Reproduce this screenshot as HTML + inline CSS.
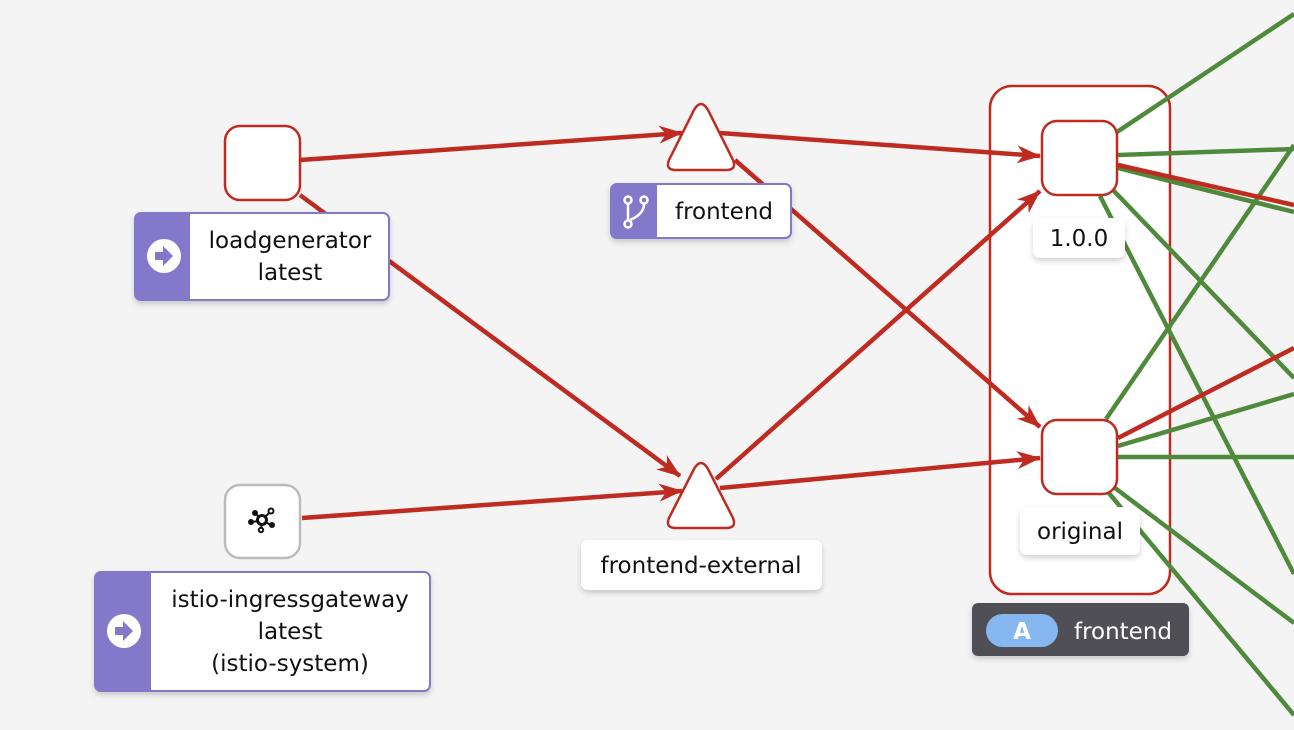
<!DOCTYPE html>
<html><head><meta charset="utf-8"><style>
html,body{margin:0;padding:0;background:#f4f4f4;}
svg{display:block;font-family:"DejaVu Sans","Liberation Sans",sans-serif;}
</style></head><body>
<svg width="1294" height="730" viewBox="0 0 1294 730" xmlns="http://www.w3.org/2000/svg">
<defs>
<marker id="ar" viewBox="0 0 24 18" refX="23" refY="9" markerWidth="24" markerHeight="18" markerUnits="userSpaceOnUse" orient="auto">
<path d="M0,0 L24,9 L0,18 L7,9 Z" fill="#bf2b20"/></marker>
<filter id="sh" x="-20%" y="-20%" width="140%" height="150%"><feDropShadow dx="0" dy="3" stdDeviation="3" flood-color="#000" flood-opacity="0.18"/></filter>
</defs>
<rect width="1294" height="730" fill="#f4f4f4"/>

<rect x="990" y="86" width="180" height="508" rx="22" fill="#fff" stroke="#bf2b20" stroke-width="2.5"/>

<g stroke="#4f8a3c" stroke-width="4.5" fill="none">
<line x1="1117" y1="132" x2="1294" y2="14"/>
<line x1="1118" y1="155" x2="1294" y2="149"/>
<line x1="1118" y1="168" x2="1294" y2="212"/>
<line x1="1113" y1="190" x2="1294" y2="378"/>
<line x1="1100" y1="196" x2="1294" y2="574"/>
<line x1="1106" y1="419" x2="1294" y2="145"/>
<line x1="1118" y1="446" x2="1294" y2="394"/>
<line x1="1118" y1="457" x2="1294" y2="457"/>
<line x1="1115" y1="488" x2="1294" y2="623"/>
<line x1="1108" y1="492" x2="1294" y2="715"/>
</g>
<g stroke="#bf2b20" stroke-width="4.5" fill="none">
<line x1="1118" y1="165" x2="1294" y2="205"/>
<line x1="1118" y1="438" x2="1294" y2="348"/>
</g>

<g stroke="#bf2b20" stroke-width="4.5" fill="none" marker-end="url(#ar)">
<line x1="300" y1="160" x2="682" y2="133"/>
<line x1="720" y1="133" x2="1040" y2="156"/>
<line x1="300" y1="195" x2="680" y2="476"/>
<line x1="302" y1="518" x2="682" y2="491"/>
<line x1="716" y1="479" x2="1040" y2="191"/>
<line x1="720" y1="488" x2="1040" y2="458"/>
<line x1="735" y1="160" x2="1040" y2="427"/>
</g>

<rect x="225" y="126" width="75" height="74" rx="15" fill="#fff" stroke="#bf2b20" stroke-width="2.5"/>
<rect x="225" y="485" width="75" height="73" rx="15" fill="#fff" stroke="#bbb" stroke-width="2.5"/>
<g transform="translate(262,520)" fill="none" stroke="#111" stroke-width="2">
<circle cx="0" cy="0" r="4.5" stroke-width="3"/>
<line x1="-6" y1="-6" x2="-3" y2="-3"/><line x1="3" y1="-3" x2="7" y2="-7"/>
<line x1="-10" y1="2" x2="-4" y2="1"/><line x1="3" y1="2" x2="9" y2="5"/><line x1="0" y1="4" x2="-1" y2="8"/>
<circle cx="-7" cy="-7" r="2" fill="#111"/><circle cx="9" cy="-9" r="2.5" fill="#fff"/>
<circle cx="-11" cy="2" r="2" fill="#111"/><circle cx="10" cy="5" r="2" fill="#111"/><circle cx="-1" cy="10" r="2.2" fill="#fff"/>
</g>
<path d="M694,110 Q701,98 708,110 L733,160 Q737,170 726,170 L676,170 Q665,170 669,160 Z" fill="#fff" stroke="#bf2b20" stroke-width="2.5"/>
<path d="M694,469 Q701,457 708,469 L733,518 Q737,528 726,528 L676,528 Q665,528 669,518 Z" fill="#fff" stroke="#bf2b20" stroke-width="2.5"/>
<rect x="1042" y="121" width="75" height="74" rx="15" fill="#fff" stroke="#bf2b20" stroke-width="2.5"/>
<rect x="1042" y="420" width="75" height="74" rx="15" fill="#fff" stroke="#bf2b20" stroke-width="2.5"/>

<g filter="url(#sh)">
<rect x="135" y="213" width="254" height="87" rx="6" fill="#fff" stroke="#8378c9" stroke-width="2"/>
<path d="M141,213 H190 V300 H141 Q135,300 135,294 V219 Q135,213 141,213 Z" fill="#8378c9"/>
</g>
<circle cx="164" cy="256" r="17" fill="#fff"/>
<path d="M155,252 h8 v-6 l10,10 l-10,10 v-6 h-8 z" fill="#8378c9"/>
<text x="290" y="248" font-size="23" text-anchor="middle" fill="#111">loadgenerator</text>
<text x="290" y="280" font-size="23" text-anchor="middle" fill="#111">latest</text>

<g filter="url(#sh)">
<rect x="611" y="184" width="180" height="54" rx="6" fill="#fff" stroke="#8378c9" stroke-width="2"/>
<path d="M617,184 H657 V238 H617 Q611,238 611,232 V190 Q611,184 617,184 Z" fill="#8378c9"/>
</g>
<g stroke="#fff" stroke-width="2.5" fill="none">
<circle cx="628" cy="200" r="3.5"/><circle cx="628" cy="224" r="3.5"/><circle cx="644" cy="200" r="3.5"/>
<line x1="628" y1="204" x2="628" y2="220"/><path d="M644,204 Q644,214 630,220"/>
</g>
<text x="724" y="219" font-size="23" text-anchor="middle" fill="#111">frontend</text>

<g filter="url(#sh)">
<rect x="95" y="572" width="335" height="119" rx="6" fill="#fff" stroke="#8378c9" stroke-width="2"/>
<path d="M101,572 H151 V691 H101 Q95,691 95,685 V578 Q95,572 101,572 Z" fill="#8378c9"/>
</g>
<circle cx="124" cy="631" r="17" fill="#fff"/>
<path d="M115,627 h8 v-6 l10,10 l-10,10 v-6 h-8 z" fill="#8378c9"/>
<text x="290" y="607" font-size="23" text-anchor="middle" fill="#111">istio-ingressgateway</text>
<text x="290" y="639" font-size="23" text-anchor="middle" fill="#111">latest</text>
<text x="290" y="671" font-size="23" text-anchor="middle" fill="#111">(istio-system)</text>

<rect x="581" y="540" width="241" height="50" rx="7" fill="#fff" filter="url(#sh)"/>
<text x="701" y="573" font-size="23" text-anchor="middle" fill="#111">frontend-external</text>

<rect x="1033" y="218" width="92" height="40" rx="7" fill="#fff" filter="url(#sh)"/>
<text x="1079" y="246" font-size="23" text-anchor="middle" fill="#111">1.0.0</text>
<rect x="1020" y="507" width="120" height="48" rx="7" fill="#fff" filter="url(#sh)"/>
<text x="1080" y="539" font-size="23" text-anchor="middle" fill="#111">original</text>

<rect x="972" y="603" width="217" height="53" rx="6" fill="#4f5054" filter="url(#sh)"/>
<rect x="986" y="614" width="72" height="33" rx="16.5" fill="#86b8ef"/>
<text x="1022" y="639" font-size="23" font-weight="bold" text-anchor="middle" fill="#fff">A</text>
<text x="1123" y="639" font-size="23" text-anchor="middle" fill="#fff">frontend</text>
</svg>
</body></html>
